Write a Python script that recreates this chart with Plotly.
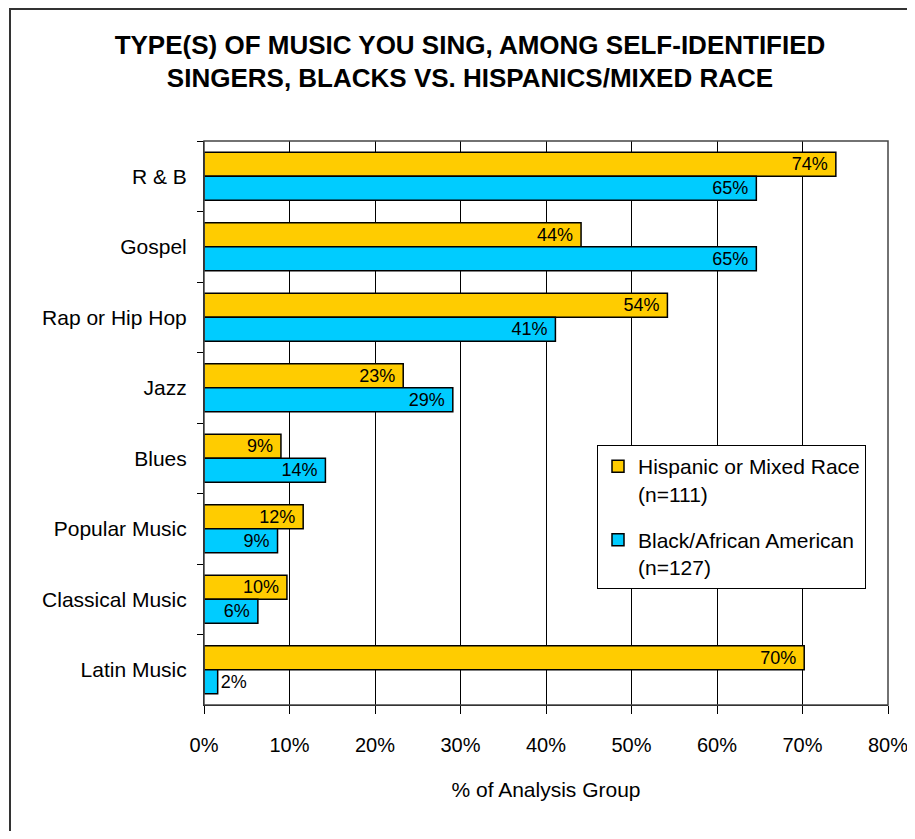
import plotly.graph_objects as go

categories = ["R & B", "Gospel", "Rap or Hip Hop", "Jazz", "Blues",
              "Popular Music", "Classical Music", "Latin Music"]
hispanic = [73.9, 44.1, 54.2, 23.3, 9.0, 11.6, 9.7, 70.2]
black = [64.6, 64.6, 41.1, 29.1, 14.2, 8.6, 6.3, 1.6]
series_names = ["Hispanic or Mixed Race<br>(n=111)", "Black/African American<br>(n=127)"]
x_ticks = [0, 10, 20, 30, 40, 50, 60, 70, 80]
x_ticklabels = ["0%", "10%", "20%", "30%", "40%", "50%", "60%", "70%", "80%"]

FONT = "Liberation Sans, Arial, sans-serif"

fig = go.Figure()
for i, (name, vals, color) in enumerate([(series_names[0], hispanic, "#FFCC00"),
                                         (series_names[1], black, "#00CCFF")]):
    positions = ["inside" if v >= 5 else "outside" for v in vals]
    fig.add_trace(go.Bar(
        y=categories, x=vals, name=name, orientation="h",
        legendgroup="g%d" % i,
        marker=dict(color=color, line=dict(color="black", width=1.5)),
        texttemplate="%{x:.0f}%\u00a0", textposition=positions,
        insidetextanchor="end", constraintext="none", textangle=0,
        textfont=dict(family=FONT, size=18, color="black"),
        cliponaxis=False,
    ))

W, H = 899, 823
PW, PH = 684, 564
fig.update_layout(
    width=W, height=H,
    paper_bgcolor="white", plot_bgcolor="white",
    margin=dict(l=196, r=W - 196 - PW, t=133, b=H - 133 - PH),
    barmode="group", bargap=0.32, bargroupgap=0,
    font=dict(family=FONT, size=21, color="black"),
    title=dict(
        text="<b>TYPE(S) OF MUSIC YOU SING, AMONG SELF-IDENTIFIED<br>SINGERS, BLACKS VS. HISPANICS/MIXED RACE</b>",
        x=(470 - 8) / W, xanchor="center", y=0.9447, yanchor="middle",
        font=dict(family=FONT, size=26, color="black"),
    ),
    xaxis=dict(
        range=[0, 80], tickvals=x_ticks, ticktext=x_ticklabels,
        showgrid=True, gridcolor="black", gridwidth=1,
        ticks="outside", ticklen=8, tickcolor="black",
        showline=True, linecolor="black", mirror=False,
        tickfont=dict(size=20), zeroline=False, ticklabelstandoff=14,
        ticklabeloverflow="allow", automargin=False,
        title=dict(text="% of Analysis Group", font=dict(size=21), standoff=27),
    ),
    yaxis=dict(
        autorange="reversed", tickson="boundaries",
        ticks="outside", ticklen=6, tickcolor="black",
        showline=True, linecolor="black", showgrid=False,
        tickfont=dict(size=21), ticklabelstandoff=12, automargin=False,
    ),
    legend=dict(
        x=(597 - 204) / PW, y=0.461, xanchor="left", yanchor="top",
        bgcolor="white", bordercolor="black", borderwidth=1,
        font=dict(size=21), valign="top", tracegroupgap=16, itemwidth=30,
    ),
    showlegend=True,
)

# plot-area border
fig.add_shape(type="rect", xref="paper", yref="paper", x0=0, x1=1, y0=0, y1=1,
              line=dict(color="#444444", width=1.5), fillcolor="rgba(0,0,0,0)", layer="above")
# outer chart frame
fig.add_shape(type="rect", xref="paper", yref="paper",
              x0=(10 - 204) / PW, x1=(935 - 204) / PW,
              y0=(705 - 860) / PH, y1=(705 - 9) / PH,
              line=dict(color="#333333", width=2), fillcolor="rgba(0,0,0,0)")

fig.write_html("out.html")
